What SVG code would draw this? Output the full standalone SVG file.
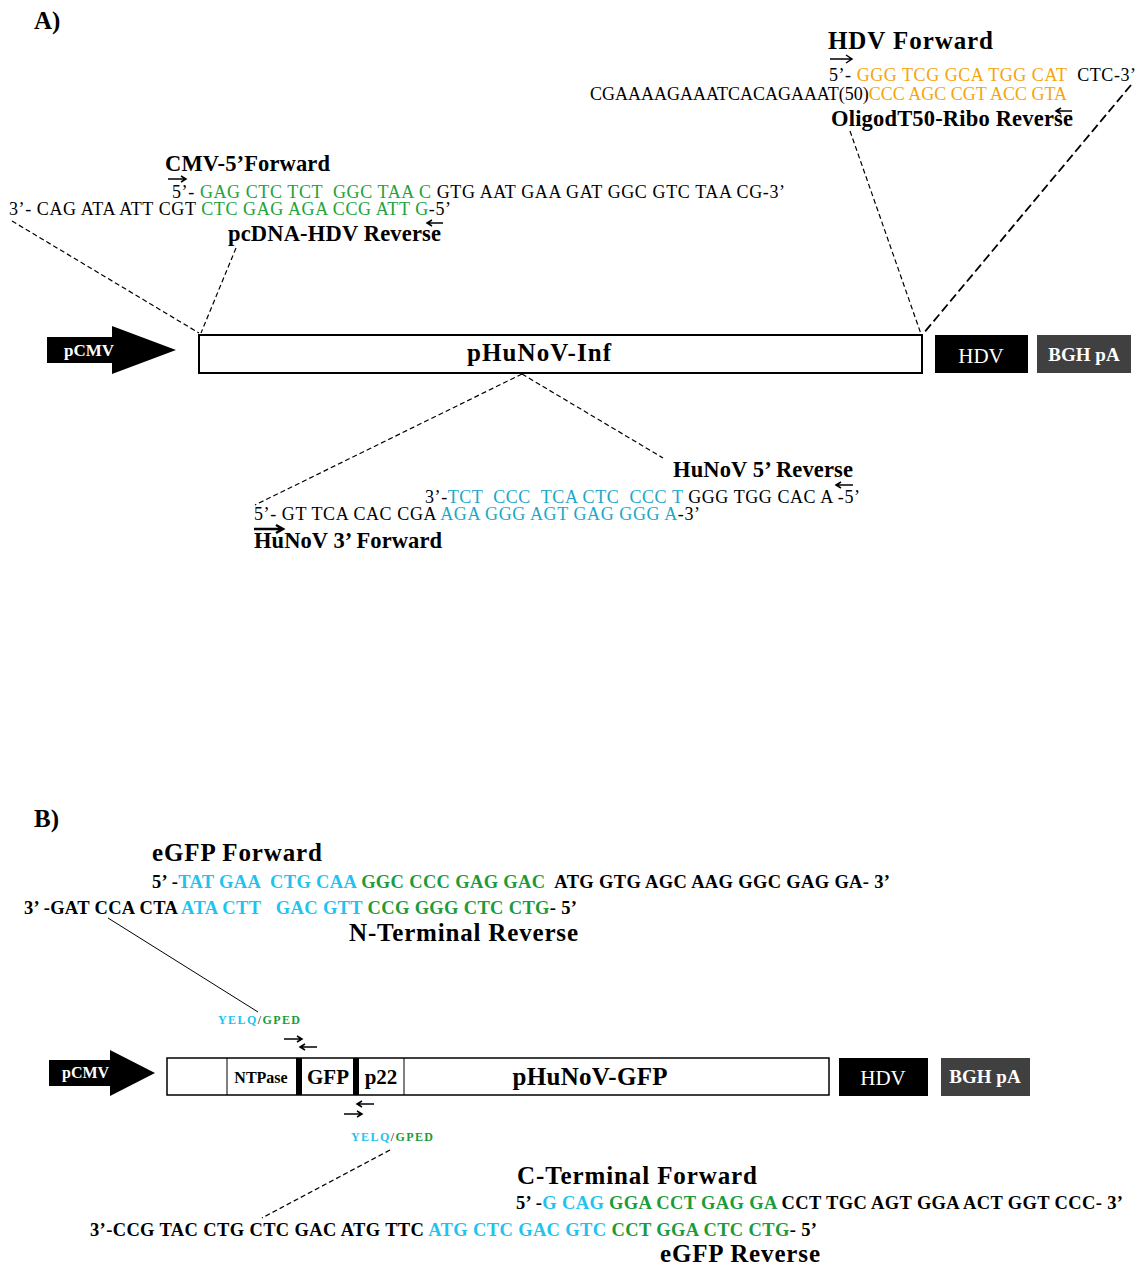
<svg xmlns="http://www.w3.org/2000/svg" width="1141" height="1266" viewBox="0 0 1141 1266">
<style>
text{font-family:"Liberation Serif","Times New Roman",serif;fill:#000;white-space:pre}
.seq{font-size:18px}
.seqb{font-size:18.5px;font-weight:bold}
.ttl{font-size:22.5px;font-weight:bold}
.lbl{font-size:25px;font-weight:bold}
.g{fill:#22a23a}
.o{fill:#f5a50a}
.c{fill:#1aa8c8}
.cb{fill:#1fc3ef}
.gb{fill:#1b9b3b}
.w{fill:#fff}
.dash{stroke:#000;stroke-width:1.2;stroke-dasharray:5,3;fill:none}
.solid{stroke:#000;stroke-width:1;fill:none}
.arr{stroke:#000;stroke-width:1.5;fill:none}
.bar{fill:#fff;stroke:#000;stroke-width:2}
</style>

<text x="34" y="29" class="lbl" font-size="24">A)</text>
<text x="34" y="827" class="lbl" font-size="24">B)</text>

<!-- Part A primer annotations -->
<g id="hdv-forward">
  <text x="828" y="49" class="lbl" textLength="165" lengthAdjust="spacing">HDV Forward</text>
  <path class="arr" d="M830 59 H852 M846 55 L852 59 L846 63"/>
  <text x="829" y="81" class="seq" textLength="307" lengthAdjust="spacing">5’- <tspan class="o">GGG TCG GCA TGG CAT</tspan>  CTC-3’</text>
  <text x="590" y="100" class="seq" textLength="477" lengthAdjust="spacing">CGAAAAGAAATCACAGAAAT(50)<tspan class="o">CCC AGC CGT ACC GTA</tspan></text>
  <path class="arr" d="M1072 111 H1056 M1061 108 L1056 111 L1061 114"/>
  <text x="831" y="126" class="ttl" textLength="242" lengthAdjust="spacing">OligodT50-Ribo Reverse</text>
</g>

<g id="cmv-forward">
  <text x="165" y="171" class="ttl" textLength="165" lengthAdjust="spacing">CMV-5’Forward</text>
  <path class="arr" d="M168 179 H186 M181 176 L186 179 L181 182"/>
  <text x="172" y="198" class="seq" textLength="613" lengthAdjust="spacing">5’- <tspan class="g">GAG CTC TCT  GGC TAA C</tspan> GTG AAT GAA GAT GGC GTC TAA CG-3’</text>
  <text x="9" y="215" class="seq" textLength="442" lengthAdjust="spacing">3’- CAG ATA ATT CGT <tspan class="g">CTC GAG AGA CCG ATT G</tspan>-5’</text>
  <path class="arr" d="M443 223 H427 M432 220 L427 223 L432 226"/>
  <text x="228" y="241" class="ttl" textLength="213" lengthAdjust="spacing">pcDNA-HDV Reverse</text>
</g>

<g id="hunov-primers">
  <text x="673" y="477" class="ttl" textLength="180" lengthAdjust="spacing">HuNoV 5’ Reverse</text>
  <path class="arr" d="M853 485 H836 M841 482 L836 485 L841 488"/>
  <text x="425" y="503" class="seq" textLength="435" lengthAdjust="spacing">3’-<tspan class="c">TCT  CCC  TCA CTC  CCC T</tspan> GGG TGG CAC A -5’</text>
  <text x="254" y="520" class="seq" textLength="446" lengthAdjust="spacing">5’- GT TCA CAC CGA <tspan class="c">AGA GGG AGT GAG GGG A</tspan>-3’</text>
  <path d="M254 529 H283 M276 525 L283 529 L276 533" stroke="#000" stroke-width="2.5" fill="none"/>
  <text x="254" y="548" class="ttl" textLength="188" lengthAdjust="spacing">HuNoV 3’ Forward</text>
</g>

<!-- Part A construct -->
<g id="pcmv-a">
  <polygon points="47,337 112,337 112,326 176,350 112,374 112,363 47,363" fill="#000"/>
  <text x="64" y="356" font-size="17" font-weight="bold" class="w">pCMV</text>
</g>
<g id="phunov-inf">
  <rect x="199" y="335" width="723" height="38" class="bar"/>
  <text x="539" y="361" text-anchor="middle" class="lbl" font-size="24" textLength="144" lengthAdjust="spacing">pHuNoV-Inf</text>
</g>
<g id="hdv-a">
  <rect x="935" y="335" width="93" height="38" fill="#000"/>
  <text x="981" y="363" text-anchor="middle" font-size="21" class="w">HDV</text>
</g>
<g id="bgh-a">
  <rect x="1037" y="335" width="94" height="38" fill="#404040"/>
  <text x="1084" y="361" text-anchor="middle" font-size="19" font-weight="bold" class="w">BGH pA</text>
</g>

<!-- Part B primer annotations -->
<g id="egfp-forward">
  <text x="152" y="861" class="lbl" font-size="26" textLength="170" lengthAdjust="spacing">eGFP Forward</text>
  <text x="152" y="888" class="seqb" textLength="738" lengthAdjust="spacing">5’ -<tspan class="cb">TAT GAA  CTG CAA</tspan> <tspan class="gb">GGC CCC GAG GAC</tspan>  ATG GTG AGC AAG GGC GAG GA- 3’</text>
  <text x="24" y="914" class="seqb" textLength="553" lengthAdjust="spacing">3’ -GAT CCA CTA <tspan class="cb">ATA CTT   GAC GTT</tspan> <tspan class="gb">CCG GGG CTC CTG</tspan>- 5’</text>
  <text x="349" y="941" class="lbl" textLength="229" lengthAdjust="spacing">N-Terminal Reverse</text>
</g>

<g id="junction-top">
  <text x="218" y="1024" font-size="12" font-weight="bold" textLength="82" lengthAdjust="spacing"><tspan class="cb">YELQ</tspan><tspan font-weight="normal">/</tspan><tspan class="gb">GPED</tspan></text>
  <path class="arr" d="M284 1039 H302 M297 1036 L302 1039 L297 1042"/>
  <path class="arr" d="M317 1047 H300 M305 1044 L300 1047 L305 1050"/>
</g>
<g id="junction-bottom">
  <path class="arr" d="M374 1104 H357 M362 1101 L357 1104 L362 1107"/>
  <path class="arr" d="M344 1114 H362 M357 1111 L362 1114 L357 1117"/>
  <text x="351" y="1141" font-size="12" font-weight="bold" textLength="82" lengthAdjust="spacing"><tspan class="cb">YELQ</tspan><tspan font-weight="normal">/</tspan><tspan class="gb">GPED</tspan></text>
</g>

<g id="cterm-forward">
  <text x="517" y="1184" class="lbl" textLength="240" lengthAdjust="spacing">C-Terminal Forward</text>
  <text x="516" y="1209" class="seqb" textLength="607" lengthAdjust="spacing">5’ -<tspan class="cb">G CAG</tspan> <tspan class="gb">GGA CCT GAG GA</tspan> CCT TGC AGT GGA ACT GGT CCC- 3’</text>
  <text x="90" y="1236" class="seqb" textLength="727" lengthAdjust="spacing">3’-CCG TAC CTG CTC GAC ATG TTC <tspan class="cb">ATG CTC GAC GTC</tspan> <tspan class="gb">CCT GGA CTC CTG</tspan>- 5’</text>
  <text x="660" y="1262" class="lbl" textLength="160" lengthAdjust="spacing">eGFP Reverse</text>
</g>

<!-- Part B construct -->
<g id="pcmv-b">
  <polygon points="49,1060 110,1060 110,1050 155,1073 110,1096 110,1086 49,1086" fill="#000"/>
  <text x="62" y="1078" font-size="16" font-weight="bold" class="w">pCMV</text>
</g>
<g id="phunov-gfp">
  <rect x="167" y="1058" width="662" height="37" fill="#fff" stroke="#000" stroke-width="1.5"/>
  <line x1="227" y1="1058" x2="227" y2="1095" stroke="#000" stroke-width="1"/>
  <rect x="296" y="1058" width="6" height="37" fill="#000"/>
  <rect x="353" y="1058" width="6" height="37" fill="#000"/>
  <line x1="404" y1="1058" x2="404" y2="1095" stroke="#000" stroke-width="1"/>
  <text x="261" y="1083" text-anchor="middle" font-size="16" font-weight="bold">NTPase</text>
  <text x="328" y="1084" text-anchor="middle" font-size="21" font-weight="bold">GFP</text>
  <text x="381" y="1084" text-anchor="middle" font-size="21" font-weight="bold">p22</text>
  <text x="590" y="1085" text-anchor="middle" class="lbl" font-size="24" textLength="155" lengthAdjust="spacing">pHuNoV-GFP</text>
</g>
<g id="hdv-b">
  <rect x="839" y="1058" width="89" height="38" fill="#000"/>
  <text x="883" y="1085" text-anchor="middle" font-size="21" class="w">HDV</text>
</g>
<g id="bgh-b">
  <rect x="941" y="1058" width="89" height="38" fill="#404040"/>
  <text x="985" y="1083" text-anchor="middle" font-size="19" font-weight="bold" class="w">BGH pA</text>
</g>

<!-- Connectors -->
<g id="connectors">
  <line class="dash" x1="12" y1="221" x2="199" y2="333"/>
  <line class="dash" x1="236" y1="248" x2="201" y2="333"/>
  <line class="dash" x1="850" y1="131" x2="921" y2="334"/>
  <line x1="1131" y1="85" x2="923" y2="334" stroke="#000" stroke-width="1.8" stroke-dasharray="9,4"/>
  <line class="dash" x1="522" y1="374" x2="255" y2="505"/>
  <line class="dash" x1="522" y1="374" x2="663" y2="458"/>
  <line class="solid" x1="108" y1="918" x2="258" y2="1012"/>
  <line class="dash" x1="390" y1="1150" x2="262" y2="1218"/>
</g>
</svg>
